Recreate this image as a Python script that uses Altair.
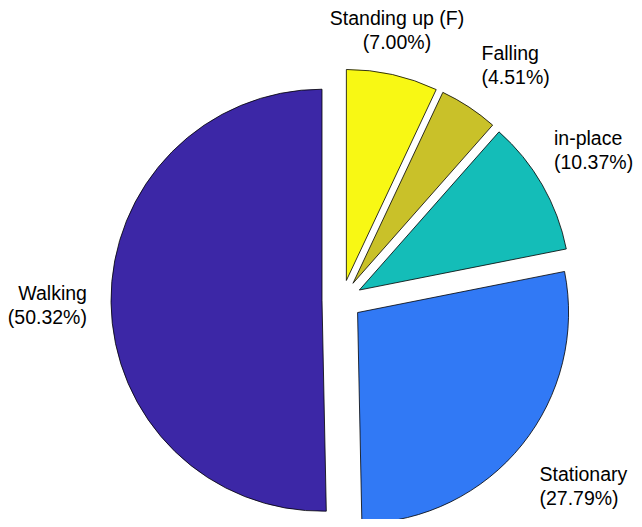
import altair as alt
import pandas as pd

# ---- data ----
categories = ["Standing up (F)", "Falling", "in-place", "Stationary", "Walking"]
percent = [7.00, 4.51, 10.37, 27.79, 50.32]
slice_colors = ["#f8f814", "#c9c129", "#14bdb8", "#3179f5", "#3c27a6"]

df = pd.DataFrame({"name": categories, "pct": percent, "idx": list(range(len(categories)))})

# ---- layout constants (pixels, chart coordinates) ----
W, H = 626, 511
CX, CY = 334, 292      # pie centre
R = 211                # pie radius
D = 20                 # explode distance
LR = D + 1.1 * R       # label distance from centre
LH = 24                # label line height
LX_MAX = W - 81        # keep right-side labels inside the canvas

base = (
    alt.Chart(df)
    .transform_joinaggregate(total="sum(pct)")
    .transform_window(cum="sum(pct)", sort=[alt.SortField("idx", order="ascending")], frame=[None, 0])
    .transform_calculate(
        end="datum.cum / datum.total * 2 * PI",
        start="(datum.cum - datum.pct) / datum.total * 2 * PI",
    )
    .transform_calculate(mid="(datum.start + datum.end) / 2")
    .transform_calculate(
        cx=f"{CX} + {D} * sin(datum.mid)",
        cy=f"{CY} - {D} * cos(datum.mid)",
        lx=f"min({LX_MAX}, {CX} + {LR} * sin(datum.mid))",
        ly=f"{CY} - {LR} * cos(datum.mid)",
        halign="sin(datum.mid) > 0.3 ? 'left' : (sin(datum.mid) < -0.3 ? 'right' : 'center')",
        vbase="cos(datum.mid) > 0.3 ? 'bottom' : (cos(datum.mid) < -0.3 ? 'top' : 'middle')",
        label="datum.name + '\\n(' + format(datum.pct, '.2f') + '%)'",
    )
)

arcs = base.mark_arc(radius=R, stroke="black", strokeWidth=0.8).encode(
    theta=alt.Theta("start:Q", scale=None, stack=None),
    theta2="end:Q",
    x=alt.X("cx:Q", scale=None),
    y=alt.Y("cy:Q", scale=None),
    color=alt.Color("name:N", scale=alt.Scale(domain=categories, range=slice_colors), legend=None),
    order=alt.Order("idx:Q"),
)

dx_for = {"left": 1, "center": 0, "right": -3}
dy_for = {"top": 8, "middle": -9, "bottom": -LH - 1}

layers = [arcs]
for a in ["left", "center", "right"]:
    for b in ["top", "middle", "bottom"]:
        layers.append(
            base.transform_filter(f"datum.halign == '{a}' && datum.vbase == '{b}'")
            .mark_text(
                align=a,
                baseline=b,
                dx=dx_for[a],
                dy=dy_for[b],
                lineBreak="\n",
                lineHeight=LH,
                font="Liberation Sans",
                fontSize=19.5,
                color="black",
            )
            .encode(
                x=alt.X("lx:Q", scale=None),
                y=alt.Y("ly:Q", scale=None),
                text="label:N",
            )
        )

chart = (
    alt.layer(*layers)
    .properties(width=W, height=H, autosize=alt.AutoSizeParams(type="none"), padding=0)
    .configure_view(stroke=None)
)

chart.save("out.html", embed_options={"renderer": "svg", "actions": False})
